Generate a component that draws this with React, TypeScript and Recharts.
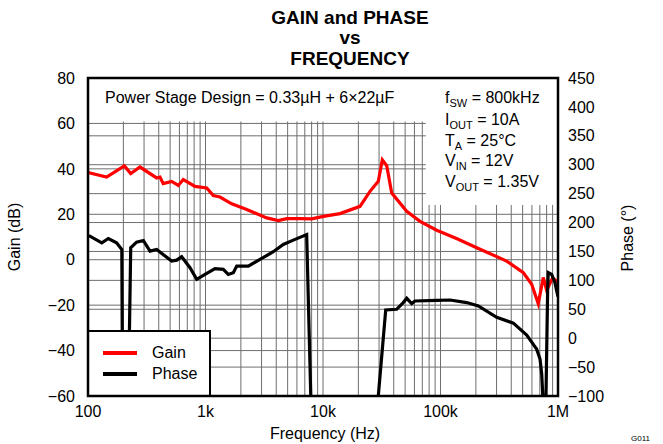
import { LineChart, Line, XAxis, YAxis, CartesianGrid, ReferenceArea } from "recharts";

// Frequency response (Hz, dB / degrees)
const gainFreq = [
  100, 104, 144, 204, 231, 277, 384, 410, 437, 515, 587, 647, 814, 1024, 1165, 1328, 1671, 2243,
  3318, 4166, 4910, 6370, 8010, 10070, 13960, 20660, 25120, 29560, 31980, 34860, 38440, 51560,
  66970, 92840, 140000, 203200, 365600, 506700, 597000, 679200, 749400, 801000, 900000, 1000000,
];
const gainDb = [
  38.5, 38.2, 36.4, 41.3, 37.9, 40.8, 36, 36.4, 33.5, 34.5, 32.7, 35.3, 32.3, 31.6, 28.2, 27.6,
  24.6, 22.1, 18.4, 17.2, 18.1, 18.1, 18.0, 19.1, 20.3, 23.5, 30.1, 34.5, 44.0, 41.4, 29.4, 21.3,
  16.9, 13, 9.1, 5.3, -0.6, -5.7, -10.8, -19.4, -7.8, -13.5, -8, -10,
];

const phaseFreq = [
  100, 104, 131, 149, 175, 194, 198, 217, 231, 259, 296, 337, 384, 515, 569, 627, 738, 842, 991,
  1205, 1417, 1563, 1725, 1844, 2314, 2910, 3777, 4592, 5587, 7262, 8100, 26800, 34180, 42400,
  43750, 48230, 51560, 56880, 60650, 92900, 120500, 167100, 209900, 300800, 416500, 541700,
  658500, 703100, 726800, 741000, 765000, 790000, 817000, 826000, 883000, 942000, 975000, 1000000,
];
const phaseDeg = [
  177, 176.4, 165, 172.4, 165, 153.4, -200, -200, 156.4, 166, 169, 150.5, 153.4, 133.3, 135,
  140.9, 121.9, 101.7, 110.3, 120.2, 119, 110.3, 113.2, 124.7, 124.7, 136.2, 149.5, 162, 169.6,
  179.3, -200, -200, 48.8, 50, 53, 61.6, 69, 59.8, 64.3, 65.5, 66, 61.6, 55.7, 36.2, 26, 5.2, -19,
  -36, -62, -96.5, -200, -100, 87.4, 113.3, 110.3, 96, 81.6, 72,
];

const freqTicks = [
  100, 200, 300, 400, 500, 600, 700, 800, 900,
  1000, 2000, 3000, 4000, 5000, 6000, 7000, 8000, 9000,
  10000, 20000, 30000, 40000, 50000, 60000, 70000, 80000, 90000,
  100000, 200000, 300000, 400000, 500000, 600000, 700000, 800000, 900000,
  1000000,
];
const freqLabels: Record<number, string> = { 100: "100", 1000: "1k", 10000: "10k", 100000: "100k", 1000000: "1M" };
const gainTicks = [-60, -40, -20, 0, 20, 40, 60, 80];
const phaseTicks = [-100, -50, 0, 50, 100, 150, 200, 250, 300, 350, 400, 450];

const gainData = gainFreq.map((f, i) => ({ f, v: gainDb[i] }));
const phaseData = phaseFreq.map((f, i) => ({ f, v: phaseDeg[i] }));

const FONT = "'Liberation Sans', Arial, sans-serif";
const minus = (v: number) => String(v).replace("-", "\u2212");

const W = 663;
const H = 444;
const M = { top: 78, right: 45, bottom: 18, left: 28 };
const PL = 88;
const PR = 558;
const PT = 78;
const PB = 396;
const GRID = "#6e6e6e";

const Sub = ({ base, sub, rest }: { base: string; sub: string; rest: string }) => (
  <>
    {base}
    <tspan fontSize={11} dy={4}>{sub}</tspan>
    <tspan dy={-4}>{rest}</tspan>
  </>
);

export default function App() {
  return (
    <div style={{ position: "absolute", left: 0, top: 0, width: W, height: H, background: "#fff", fontFamily: FONT }}>
      <LineChart width={W} height={H} margin={M} style={{ position: "absolute", left: 0, top: 0 }}>
        <CartesianGrid yAxisId="g" stroke={GRID} strokeWidth={1} />
        <CartesianGrid yAxisId="p" stroke={GRID} strokeWidth={1} vertical={false} />
        <XAxis
          dataKey="f"
          type="number"
          scale="log"
          domain={[100, 1000000]}
          allowDataOverflow
          ticks={freqTicks}
          interval={0}
          tickFormatter={(v: number) => freqLabels[v] ?? ""}
          tickLine={false}
          axisLine={false}
          tickMargin={4}
          tick={{ fill: "#000", fontSize: 16, fontFamily: FONT }}
          height={30}
        />
        <YAxis
          yAxisId="g"
          domain={[-60, 80]}
          ticks={gainTicks}
          interval={0}
          tickFormatter={minus}
          tickLine={false}
          axisLine={false}
          tickMargin={7}
          width={60}
          tick={{ fill: "#000", fontSize: 16, fontFamily: FONT }}
        />
        <YAxis
          yAxisId="p"
          orientation="right"
          domain={[-100, 450]}
          allowDataOverflow
          ticks={phaseTicks}
          interval={0}
          tickFormatter={minus}
          tickLine={false}
          axisLine={false}
          tickMargin={4}
          width={60}
          tick={{ fill: "#000", fontSize: 16, fontFamily: FONT }}
        />
        <ReferenceArea yAxisId="g" x1={100} x2={1000000} y1={60.8} y2={80} fill="#fff" fillOpacity={1} stroke="none" ifOverflow="hidden" />
        <ReferenceArea yAxisId="g" x1={75000} x2={1000000} y1={24.1} y2={80} fill="#fff" fillOpacity={1} stroke="none" ifOverflow="hidden" />
        <Line
          yAxisId="g"
          data={gainData}
          dataKey="v"
          type="linear"
          stroke="#ff0000"
          strokeWidth={3.2}
          dot={false}
          isAnimationActive={false}
        />
        <Line
          yAxisId="p"
          data={phaseData}
          dataKey="v"
          type="linear"
          stroke="#000"
          strokeWidth={3.2}
          dot={false}
          isAnimationActive={false}
        />
      </LineChart>
      <svg width={W} height={H} style={{ position: "absolute", left: 0, top: 0, pointerEvents: "none" }} fontFamily={FONT}>
        <g fontWeight="bold" fontSize={19} textAnchor="middle">
          <text x={350} y={24}>GAIN and PHASE</text>
          <text x={350} y={44}>vs</text>
          <text x={350} y={65}>FREQUENCY</text>
        </g>
        <g fontSize={16}>
          <text x={105} y={103}>Power Stage Design = 0.33µH + 6×22µF</text>
          <text x={445} y={103}><Sub base="f" sub="SW" rest=" = 800kHz" /></text>
          <text x={445} y={125}><Sub base="I" sub="OUT" rest=" = 10A" /></text>
          <text x={445} y={146}><Sub base="T" sub="A" rest=" = 25°C" /></text>
          <text x={445} y={166}><Sub base="V" sub="IN" rest=" = 12V" /></text>
          <text x={445} y={187}><Sub base="V" sub="OUT" rest=" = 1.35V" /></text>
          <text x={325} y={439} textAnchor="middle">Frequency (Hz)</text>
          <text x={20} y={237} textAnchor="middle" transform="rotate(-90 20 237)">Gain (dB)</text>
          <text x={633} y={238} textAnchor="middle" transform="rotate(-90 633 238)">Phase (°)</text>
        </g>
        <text x={650} y={441} fontSize={8} textAnchor="end">G011</text>
        <rect x={PL} y={331} width={122} height={PB - 331} fill="#fff" stroke="#000" strokeWidth={2} />
        <line x1={103} x2={137} y1={353} y2={353} stroke="#ff0000" strokeWidth={4} />
        <line x1={103} x2={137} y1={374} y2={374} stroke="#000" strokeWidth={4} />
        <text x={152} y={358} fontSize={16}>Gain</text>
        <text x={152} y={379} fontSize={16}>Phase</text>
        <rect x={PL} y={PT} width={PR - PL} height={PB - PT} fill="none" stroke="#000" strokeWidth={2.5} />
      </svg>
    </div>
  );
}
